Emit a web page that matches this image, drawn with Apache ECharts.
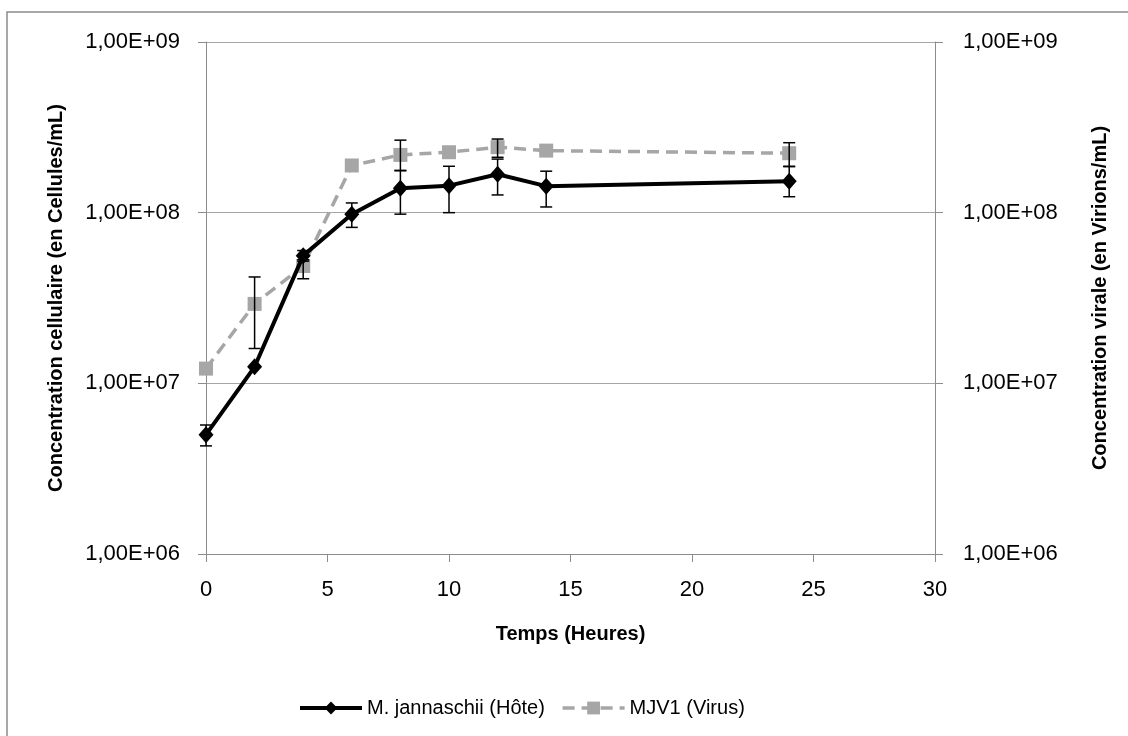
<!DOCTYPE html>
<html>
<head>
<meta charset="utf-8">
<script src="https://cdn.jsdelivr.net/npm/echarts@6/dist/echarts.min.js"></script>
<style>
html,body{margin:0;padding:0;background:#fff;}
#chart{width:1128px;height:736px;}
</style>
</head>
<body>
<div id="chart"></div>
<script>
// ---- Data ----
var hours = [0, 2, 4, 6, 8, 10, 12, 14, 24];
var hostValues = [5.0e6, 1.25e7, 5.6e7, 9.8e7, 1.39e8, 1.44e8, 1.68e8, 1.43e8, 1.53e8];
var hostLow    = [4.3e6, null,   5.2e7, 8.2e7, 9.8e7, 1.0e8, 1.27e8, 1.08e8, 1.24e8];
var hostHigh   = [5.7e6, null,   6.0e7, 1.14e8, 1.76e8, 1.87e8, 2.06e8, 1.75e8, 1.86e8];
var virusValues = [1.22e7, 2.92e7, 4.87e7, 1.89e8, 2.18e8, 2.26e8, 2.42e8, 2.31e8, 2.23e8];
var virusLow    = [null, 1.6e7, 4.1e7, null, 1.77e8, null, 2.11e8, null, 1.87e8];
var virusHigh   = [null, 4.2e7, 5.3e7, null, 2.66e8, null, 2.7e8, null, 2.57e8];
var xTicks = [0, 5, 10, 15, 20, 25, 30];
var yTickLabels = ['1,00E+06', '1,00E+07', '1,00E+08', '1,00E+09'];
var hostName = 'M. jannaschii (Hôte)';
var virusName = 'MJV1 (Virus)';

function pairs(xs, ys) {
  return xs.map(function (x, i) { return [x, ys[i]]; });
}
function errData(xs, lo, hi) {
  var out = [];
  xs.forEach(function (x, i) {
    if (lo[i] != null && hi[i] != null) out.push([x, lo[i], hi[i]]);
  });
  return out;
}
function yLabel(v) {
  var e = Math.round(Math.log10(v));
  return yTickLabels[e - 6] || '';
}
function errRender(params, api) {
  var x = api.value(0);
  var p1 = api.coord([x, api.value(1)]);
  var p2 = api.coord([x, api.value(2)]);
  var h = 6;
  var st = { stroke: '#000', lineWidth: 1.5 };
  return {
    type: 'group',
    children: [
      { type: 'line', shape: { x1: p1[0], y1: p1[1], x2: p2[0], y2: p2[1] }, style: st },
      { type: 'line', shape: { x1: p1[0] - h, y1: p1[1], x2: p1[0] + h, y2: p1[1] }, style: st },
      { type: 'line', shape: { x1: p2[0] - h, y1: p2[1], x2: p2[0] + h, y2: p2[1] }, style: st }
    ]
  };
}

var FONT = 'Liberation Sans';
var axisGray = '#8c8c8c';
var gridGray = '#a6a6a6';

var chart = echarts.init(document.getElementById('chart'));
var yAxisCommon = {
  type: 'log',
  logBase: 10,
  min: 1e6,
  max: 1e9,
  splitNumber: 3,
  nameLocation: 'middle',
  nameRotate: 90,
  nameTextStyle: { fontFamily: FONT, fontSize: 20, fontWeight: 'bold', color: '#000' },
  axisLine: { show: true, lineStyle: { color: axisGray, width: 1 } },
  axisTick: { show: true, inside: false, length: 8, lineStyle: { color: axisGray } },
  minorTick: { show: false },
  axisLabel: { fontFamily: FONT, fontSize: 22, color: '#000', formatter: yLabel }
};

chart.setOption({
  animation: false,
  backgroundColor: '#fff',
  graphic: [{
    type: 'rect',
    shape: { x: 7, y: 12, width: 1200, height: 800 },
    style: { fill: 'none', stroke: '#8c8c8c', lineWidth: 1.5 },
    silent: true
  }],
  grid: { left: 206, right: 193, top: 42, bottom: 182 },
  legend: {
    left: 293,
    top: 693,
    itemWidth: 62,
    itemHeight: 16,
    itemGap: 16,
    lineStyle: { width: 'inherit' },
    textStyle: { fontFamily: FONT, fontSize: 20, color: '#000' },
    data: [hostName, virusName]
  },
  xAxis: {
    type: 'value',
    min: 0,
    max: 30,
    interval: 5,
    name: 'Temps (Heures)',
    nameLocation: 'middle',
    nameGap: 70,
    nameTextStyle: { fontFamily: FONT, fontSize: 20, fontWeight: 'bold', color: '#000' },
    axisLine: { show: true, onZero: false, lineStyle: { color: axisGray, width: 1 } },
    axisTick: { show: true, inside: false, length: 8, lineStyle: { color: axisGray } },
    splitLine: { show: false },
    axisLabel: {
      fontFamily: FONT, fontSize: 22, color: '#000', margin: 25,
      formatter: function (v) { return xTicks.indexOf(v) >= 0 ? String(v) : ''; }
    }
  },
  yAxis: [
    Object.assign({}, yAxisCommon, {
      position: 'left',
      name: 'Concentration cellulaire (en Cellules/mL)',
      nameGap: 140,
      splitLine: { show: true, lineStyle: { color: gridGray, width: 1.2 } },
      axisLabel: Object.assign({}, yAxisCommon.axisLabel, { margin: 26 })
    }),
    Object.assign({}, yAxisCommon, {
      position: 'right',
      name: 'Concentration virale (en Virions/mL)',
      nameGap: 155,
      splitLine: { show: false },
      axisLabel: Object.assign({}, yAxisCommon.axisLabel, { margin: 28 })
    })
  ],
  series: [
    {
      name: hostName,
      type: 'line',
      yAxisIndex: 0,
      data: pairs(hours, hostValues),
      symbol: 'diamond',
      symbolSize: [15, 17],
      itemStyle: { color: '#000' },
      lineStyle: { color: '#000', width: 4 },
      z: 3
    },
    {
      name: virusName,
      type: 'line',
      yAxisIndex: 1,
      data: pairs(hours, virusValues),
      symbol: 'rect',
      symbolSize: 14,
      itemStyle: { color: '#a6a6a6' },
      lineStyle: { color: '#a6a6a6', width: 3.5, type: [12, 7] },
      z: 2
    },
    {
      type: 'custom',
      yAxisIndex: 0,
      renderItem: errRender,
      data: errData(hours, hostLow, hostHigh),
      encode: { x: 0, y: [1, 2] },
      z: 5,
      silent: true
    },
    {
      type: 'custom',
      yAxisIndex: 1,
      renderItem: errRender,
      data: errData(hours, virusLow, virusHigh),
      encode: { x: 0, y: [1, 2] },
      z: 5,
      silent: true
    }
  ]
});
</script>
</body>
</html>
